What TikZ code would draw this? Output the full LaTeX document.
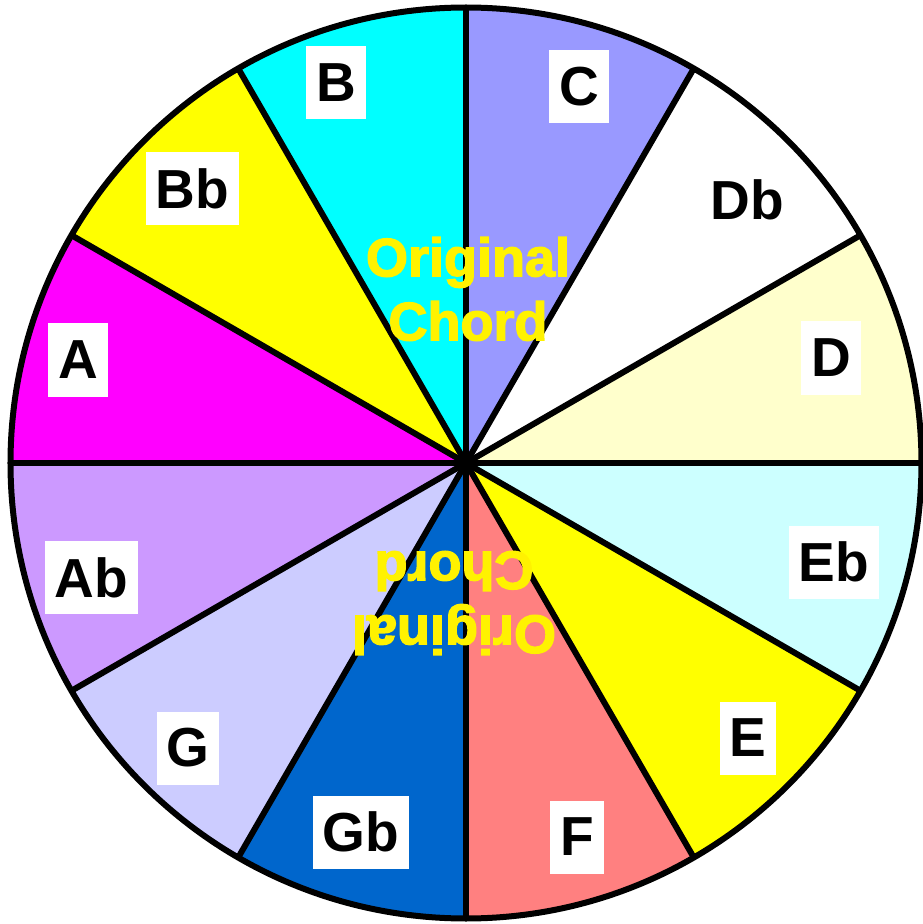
\documentclass[tikz,border=0pt]{standalone}
\usepackage{fontspec}
\setmainfont{Liberation Sans}
\newfontfamily\heavyfont[BoldFeatures={FakeBold=2.5}]{Liberation Sans}
\begin{document}
\begin{tikzpicture}[x=1pt,y=1pt,
  lab/.style={fill=white, font=\fontsize{55}{60}\selectfont\bfseries, text=black,
    minimum height=73pt, inner xsep=10pt, inner ysep=0pt},
  orig/.style={text=yellow, align=center, font=\heavyfont\fontsize{54}{64}\selectfont\bfseries, inner sep=0pt},
  rim/.style={line width=6pt, draw=black}]
\useasboundingbox (-466,-461) rectangle (456,463);
\def\R{455.5}
\definecolor{cC}{HTML}{9999FF}
\definecolor{cDb}{HTML}{FFFFFF}
\definecolor{cD}{HTML}{FFFFCC}
\definecolor{cEb}{HTML}{CCFFFF}
\definecolor{cE}{HTML}{FFFF00}
\definecolor{cF}{HTML}{FF8080}
\definecolor{cGb}{HTML}{0066CC}
\definecolor{cG}{HTML}{CCCCFF}
\definecolor{cAb}{HTML}{CC99FF}
\definecolor{cA}{HTML}{FF00FF}
\definecolor{cBb}{HTML}{FFFF00}
\definecolor{cB}{HTML}{00FFFF}
\foreach \c/\a in {cC/60,cDb/30,cD/0,cEb/-30,cE/-60,cF/-90,cGb/-120,cG/-150,cAb/-180,cA/150,cBb/120,cB/90}{
  \fill[\c] (0,0) -- (\a:\R) arc[start angle=\a, end angle=\a+30, radius=\R] -- cycle;
}
\coordinate (O) at (0,0);
\foreach \a in {0,30,...,330}{
  \draw[rim] (O) -- (\a:\R);
}
\draw[rim] (O) circle[radius=\R];
\fill (O) circle[radius=6pt];
\node[orig] (t1) at (2,174) {Original\\Chord};
\node[orig, rotate=180] (t2) at (-12,-140) {Original\\Chord};
\node[lab] (C) at (113,376.5) {C};
\node[lab] (Db) at (281,263) {Db};
\node[lab] (D) at (365,105) {D};
\node[lab] (Eb) at (368,-99) {Eb};
\node[lab] (E) at (282,-275) {E};
\node[lab] (F) at (111,-374) {F};
\node[lab] (Gb) at (-105,-369) {Gb};
\node[lab] (G) at (-278,-285) {G};
\node[lab] (Ab) at (-374.5,-114.5) {Ab};
\node[lab] (A) at (-388,103) {A};
\node[lab] (Bb) at (-273.5,274.5) {Bb};
\node[lab] (B) at (-130,380) {B};
\end{tikzpicture}
\end{document}
